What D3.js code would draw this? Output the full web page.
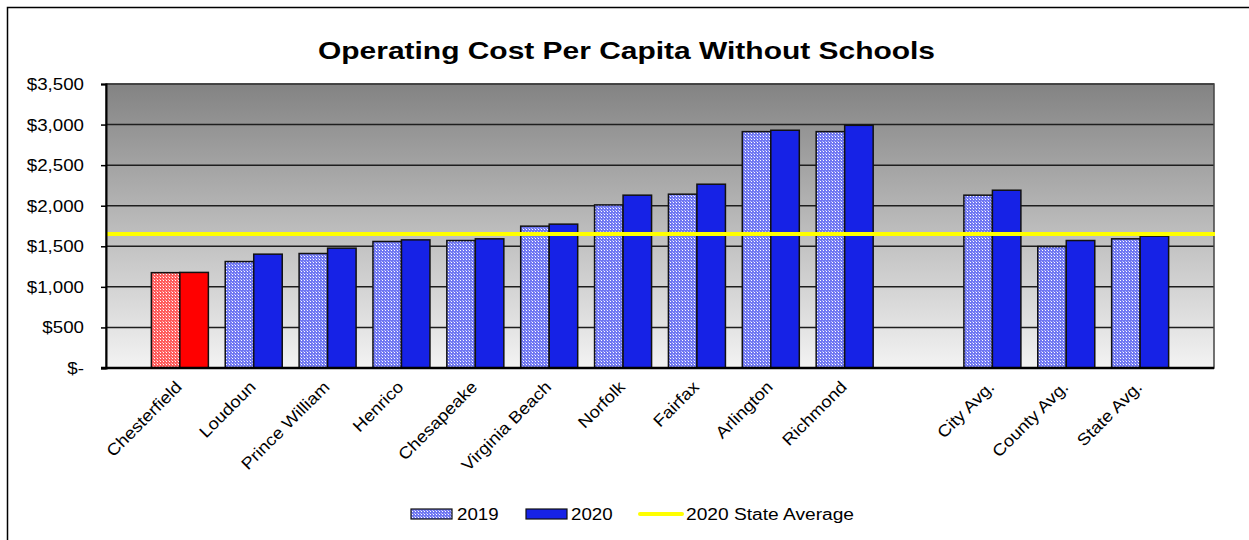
<!DOCTYPE html>
<html><head><meta charset="utf-8">
<script src="https://cdn.jsdelivr.net/npm/d3@7/dist/d3.min.js"></script>
<style>body{margin:0;background:#fff}svg{display:block}</style>
</head><body><svg id="c" width="1249" height="540"></svg>
<script>
const categories = ["Chesterfield","Loudoun","Prince William","Henrico","Chesapeake","Virginia Beach","Norfolk","Fairfax","Arlington","Richmond","","City Avg.","County Avg.","State Avg."];
const values2019 = [1175,1312,1411,1559,1571,1748,2010,2142,2913,2913,null,2130,1497,1592];
const values2020 = [1178,1403,1477,1579,1592,1773,2130,2265,2930,2991,null,2191,1571,1625];
const stateAverage2020 = 1650;
const yTicks = [0,500,1000,1500,2000,2500,3000,3500];
const seriesNames = ["2019","2020","2020 State Average"];

const FONT = "Liberation Sans, Arial, sans-serif";
const SX = 1.17;
const svg = d3.select("#c");
const m = {l:106, r:1214, t:84, b:368};
const defs = svg.append("defs");
const grad = defs.append("linearGradient").attr("id","bg").attr("x1",0).attr("y1",0).attr("x2",0).attr("y2",1);
grad.append("stop").attr("offset","0%").attr("stop-color","#838383");
grad.append("stop").attr("offset","100%").attr("stop-color","#f3f3f3");
function pat(id, base, dot){
  const p = defs.append("pattern").attr("id",id).attr("width",3).attr("height",3).attr("patternUnits","userSpaceOnUse");
  p.append("rect").attr("width",3).attr("height",3).attr("fill",base);
  p.append("rect").attr("x",1).attr("y",1).attr("width",1).attr("height",1).attr("fill",dot);
  p.append("rect").attr("x",0).attr("y",0).attr("width",1).attr("height",1).attr("fill",dot).attr("opacity",0.5);
}
pat("p19","#7078f2","#ffffff");
pat("pRed19","#ff5c5c","#ffffff");

// outer border
svg.append("rect").attr("x",7.5).attr("y",7.5).attr("width",1260).attr("height",560).attr("fill","none").attr("stroke","#000").attr("stroke-width",1.5);

// title
svg.append("text").attr("x",318).attr("y",59)
  .attr("font-family",FONT).attr("font-weight","bold").attr("font-size",24.5)
  .attr("textLength",617).attr("lengthAdjust","spacingAndGlyphs")
  .text("Operating Cost Per Capita Without Schools");

const x = d3.scalePoint().domain(d3.range(categories.length)).range([m.l,m.r]).padding(1);
const y = d3.scaleLinear().domain([0,3500]).range([m.b,m.t]);
const bw = 28.5;

svg.append("rect").attr("x",m.l).attr("y",m.t).attr("width",m.r-m.l).attr("height",m.b-m.t).attr("fill","url(#bg)");

// gridlines
svg.append("g").selectAll("line").data(yTicks.slice(1)).join("line")
  .attr("x1",m.l).attr("x2",m.r).attr("y1",d=>y(d)).attr("y2",d=>y(d))
  .attr("stroke","#1e1e1e").attr("stroke-width",1.5);
svg.append("rect").attr("x",m.l).attr("y",m.t).attr("width",m.r-m.l).attr("height",m.b-m.t).attr("fill","none").attr("stroke","#444").attr("stroke-width",1.5);

// bars
const gb = svg.append("g");
categories.forEach((c,i)=>{
  if(values2019[i]==null) return;
  const red = i===0;
  gb.append("rect").attr("x",x(i)-bw).attr("y",y(values2019[i])).attr("width",bw).attr("height",y(0)-y(values2019[i]))
    .attr("fill", red?"url(#pRed19)":"url(#p19)").attr("stroke","#111").attr("stroke-width",1.5);
  gb.append("rect").attr("x",x(i)).attr("y",y(values2020[i])).attr("width",bw).attr("height",y(0)-y(values2020[i]))
    .attr("fill", red?"#ff0000":"#1622e6").attr("stroke","#111").attr("stroke-width",1.5);
});

// state avg line
svg.append("line").attr("x1",m.l).attr("x2",m.r+1).attr("y1",y(stateAverage2020)).attr("y2",y(stateAverage2020))
  .attr("stroke","#ffff00").attr("stroke-width",4);

// y axis
const ya = svg.append("g").attr("transform",`translate(${m.l},0)`)
  .call(d3.axisLeft(y).tickValues(yTicks).tickSize(5).tickPadding(0)
    .tickFormat(d=> d===0 ? "$-" : "$"+d3.format(",")(d)));
ya.select(".domain").attr("stroke","#000").attr("stroke-width",2);
ya.selectAll(".tick line").attr("stroke","#000").attr("stroke-width",1.5);
ya.selectAll("text").attr("font-family",FONT).attr("font-size",16).attr("fill","#000")
  .attr("x",null).attr("dy",null).attr("transform",`translate(-22,5.5) scale(${SX},1)`);

// x axis baseline
svg.append("line").attr("x1",m.l-5).attr("x2",m.r).attr("y1",y(0)).attr("y2",y(0)).attr("stroke","#000").attr("stroke-width",2.5);

// x labels
svg.append("g").selectAll("text").data(categories).join("text")
  .attr("transform",(d,i)=>`translate(${x(i)+3},${y(0)+20}) rotate(-45) scale(1.12,1)`)
  .attr("text-anchor","end").attr("font-family",FONT).attr("font-size",16.5).text(d=>d);

// legend
const lg = svg.append("g").attr("font-family",FONT).attr("font-size",16);
lg.append("rect").attr("x",411).attr("y",509).attr("width",41).attr("height",10).attr("fill","url(#p19)").attr("stroke","#111").attr("stroke-width",1.2);
lg.append("text").attr("transform",`translate(457,520) scale(${SX},1)`).text(seriesNames[0]);
lg.append("rect").attr("x",526).attr("y",509).attr("width",41).attr("height",10).attr("fill","#1622e6").attr("stroke","#111").attr("stroke-width",1.2);
lg.append("text").attr("transform",`translate(571,520) scale(${SX},1)`).text(seriesNames[1]);
lg.append("line").attr("x1",640).attr("x2",682).attr("y1",514).attr("y2",514).attr("stroke","#ffff00").attr("stroke-width",4).attr("stroke-linecap","round");
lg.append("text").attr("x",686).attr("y",520).attr("textLength",168).attr("lengthAdjust","spacingAndGlyphs").text(seriesNames[2]);
</script></body></html>
